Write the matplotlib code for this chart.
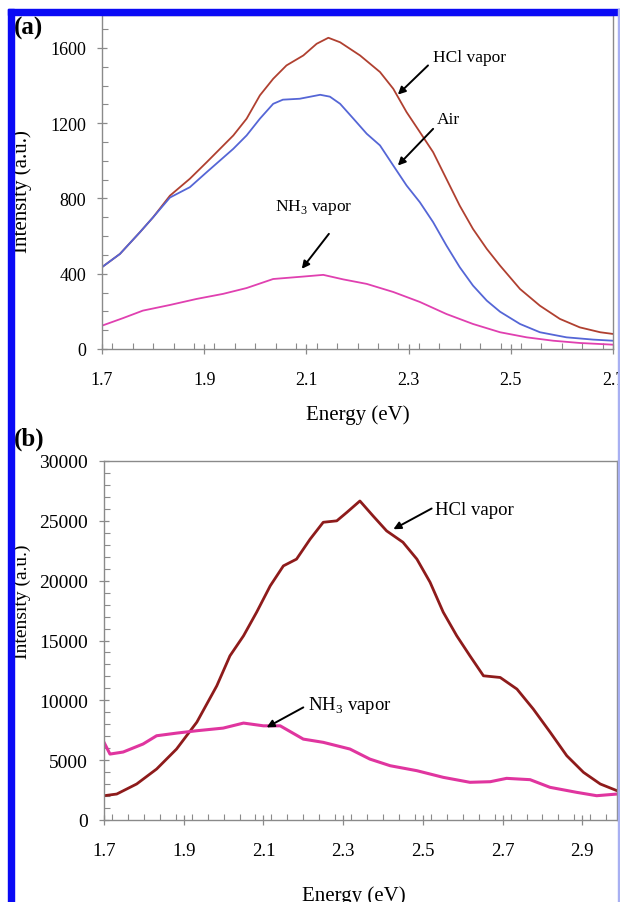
import matplotlib
matplotlib.use('Agg')
import matplotlib.pyplot as plt
from matplotlib.ticker import MultipleLocator
from matplotlib.patches import Rectangle

plt.rcParams['font.family'] = ['Liberation Serif', 'DejaVu Serif']
plt.rcParams['mathtext.fontset'] = 'custom'
plt.rcParams['mathtext.rm'] = 'Liberation Serif'

# (a) emission spectra
a_hcl_e = [1.700, 1.735, 1.774, 1.800, 1.833, 1.872, 1.905, 1.957, 1.983, 2.009, 2.035, 2.061,
           2.094, 2.120, 2.143, 2.166, 2.205, 2.244, 2.270, 2.296, 2.322, 2.348, 2.374, 2.400,
           2.426, 2.453, 2.479, 2.518, 2.557, 2.596, 2.635, 2.675, 2.700]
a_hcl_i = [435, 505, 620, 700, 815, 905, 993, 1135, 1224, 1348, 1436, 1507,
           1560, 1622, 1654, 1630, 1560, 1472, 1383, 1259, 1153, 1046, 904, 762,
           638, 532, 443, 319, 230, 160, 115, 89, 80]

a_air_e = [1.700, 1.735, 1.774, 1.800, 1.833, 1.872, 1.905, 1.957, 1.983, 2.009, 2.035, 2.054,
           2.087, 2.127, 2.146, 2.166, 2.192, 2.218, 2.244, 2.270, 2.296, 2.322, 2.348, 2.374,
           2.400, 2.426, 2.453, 2.479, 2.518, 2.557, 2.609, 2.661, 2.700]
a_air_i = [435, 505, 620, 700, 805, 860, 940, 1064, 1135, 1224, 1303, 1325,
           1330, 1351, 1341, 1303, 1224, 1144, 1082, 975, 869, 780, 674, 550,
           435, 337, 257, 198, 133, 89, 62, 50, 44]

a_nh3_e = [1.700, 1.741, 1.780, 1.833, 1.885, 1.937, 1.983, 2.035, 2.094, 2.133, 2.172,
           2.218, 2.270, 2.322, 2.374, 2.426, 2.479, 2.531, 2.583, 2.635, 2.700]
a_nh3_i = [124, 164, 204, 234, 266, 293, 324, 372, 385, 394, 370,
           346, 303, 250, 186, 133, 89, 62, 44, 32, 23]

# (b)
b_hcl_e = [1.700, 1.732, 1.782, 1.832, 1.882, 1.933, 1.983, 2.016, 2.050, 2.083, 2.117, 2.150,
           2.183, 2.217, 2.250, 2.284, 2.309, 2.342, 2.375, 2.409, 2.450, 2.485, 2.518, 2.551,
           2.585, 2.618, 2.652, 2.694, 2.736, 2.777, 2.819, 2.861, 2.903, 2.945, 2.987]
b_hcl_i = [2030, 2170, 3010, 4260, 5930, 8180, 11215, 13720, 15390, 17370, 19565, 21235,
           21800, 23465, 24880, 25000, 25700, 26660, 25410, 24160, 23210, 21800, 19870, 17370,
           15390, 13720, 12050, 11910, 10940, 9270, 7350, 5370, 3980, 3010, 2450]

b_nh3_e = [1.700, 1.715, 1.748, 1.798, 1.832, 1.882, 1.933, 1.999, 2.050, 2.100, 2.142, 2.200,
           2.250, 2.317, 2.367, 2.418, 2.485, 2.551, 2.618, 2.669, 2.710, 2.769, 2.819, 2.886,
           2.936, 2.987]
b_nh3_i = [6490, 5510, 5680, 6350, 7040, 7260, 7460, 7680, 8100, 7870, 7870, 6760,
           6490, 5930, 5090, 4535, 4120, 3565, 3150, 3200, 3480, 3370, 2730, 2310,
           2030, 2170]

W, H = 620, 903
fig = plt.figure(figsize=(W / 100, H / 100), dpi=100)


def px_axes(left, top, right, bottom):
    return fig.add_axes([left / W, 1 - bottom / H, (right - left) / W, (bottom - top) / H])


def style(ax, tick_size):
    for s in ax.spines.values():
        s.set_color('#8a8a8a')
        s.set_linewidth(1.0)
    ax.tick_params(which='major', direction='inout', length=7, width=0.9, color='#8a8a8a',
                   labelsize=tick_size)
    ax.tick_params(which='minor', direction='in', length=4, width=0.8, color='#8a8a8a')
    ax.tick_params(axis='y', which='major', pad=8)
    ax.tick_params(axis='x', which='major', pad=12)
    ax.xaxis.set_minor_locator(MultipleLocator(0.04))


arrow = dict(arrowstyle='-|>', color='black', lw=1.4, mutation_scale=11, shrinkA=0, shrinkB=0)

# ---- panel (a)
ax1 = px_axes(102, 16, 613, 350)
ax1.plot(a_hcl_e, a_hcl_i, color='#B04030', lw=1.3)
ax1.plot(a_air_e, a_air_i, color='#5566D6', lw=1.3)
ax1.plot(a_nh3_e, a_nh3_i, color='#E040B0', lw=1.3)
ax1.set_xlim(1.7, 2.7)
ax1.set_ylim(0, 1775)
ax1.set_xticks([1.7, 1.9, 2.1, 2.3, 2.5, 2.7])
ax1.set_xticklabels(['1.7', '1.9', '2.1', '2.3', '2.5', '2.7'])
ax1.set_yticks([0, 400, 800, 1200, 1600])
ax1.yaxis.set_minor_locator(MultipleLocator(100))
style(ax1, 13)

ax1.text(2.348, 1553, 'HCl vapor', fontsize=12.5, va='center')
ax1.annotate('', xy=(2.279, 1352), xytext=(2.338, 1507), arrowprops=arrow)
ax1.text(2.356, 1224, 'Air', fontsize=12.5, va='center')
ax1.annotate('', xy=(2.279, 975), xytext=(2.348, 1170), arrowprops=arrow)
ax1.text(2.039, 755, 'NH$_3$ vapor', fontsize=12.5, va='center')
ax1.annotate('', xy=(2.091, 426), xytext=(2.144, 612), arrowprops=arrow)

fig.text(358 / W, 1 - 415 / H, 'Energy (eV)', fontsize=15, ha='center', va='center')
fig.text(22 / W, 1 - 192 / H, 'Intensity (a.u.)', fontsize=15, ha='center', va='center',
         rotation=90)
fig.text(14 / W, 1 - 17 / H, '(a)', fontsize=18, fontweight='bold', ha='left', va='top')

# ---- panel (b)
ax2 = px_axes(104, 462, 617, 821)
ax2.plot(b_hcl_e, b_hcl_i, color='#8E1B1B', lw=2.0)
ax2.plot(b_nh3_e, b_nh3_i, color='#E0359F', lw=2.2)
ax2.set_xlim(1.7, 2.987)
ax2.set_ylim(0, 30000)
ax2.set_xticks([1.7, 1.9, 2.1, 2.3, 2.5, 2.7, 2.9])
ax2.set_xticklabels(['1.7', '1.9', '2.1', '2.3', '2.5', '2.7', '2.9'])
ax2.set_yticks([0, 5000, 10000, 15000, 20000, 25000, 30000])
ax2.yaxis.set_minor_locator(MultipleLocator(1000))
style(ax2, 14)
ax2.tick_params(axis='x', labelsize=13.5)

ax2.text(2.531, 25970, 'HCl vapor', fontsize=13.5, va='center')
ax2.annotate('', xy=(2.426, 24300), xytext=(2.522, 26030), arrowprops=arrow)
ax2.text(2.212, 9690, 'NH$_3$ vapor', fontsize=13.5, va='center')
ax2.annotate('', xy=(2.108, 7740), xytext=(2.2, 9410), arrowprops=arrow)

fig.text(354 / W, 1 - 886 / H, 'Energy (eV)', fontsize=15, ha='center', va='top')
fig.text(22 / W, 1 - 602 / H, 'Intensity (a.u.)', fontsize=14, ha='center', va='center',
         rotation=90)
fig.text(14 / W, 1 - 428 / H, '(b)', fontsize=18, fontweight='bold', ha='left', va='top')

# blue frame
fig.patches.append(Rectangle((8 / W, 1 - 16 / H), 1, 6 / H, transform=fig.transFigure,
                             color='#0A0AF5', zorder=10))
fig.patches.append(Rectangle((8 / W, 0), 6 / W, 1 - 10 / H, transform=fig.transFigure,
                             color='#0A0AF5', zorder=10))
fig.patches.append(Rectangle((618 / W, 0), 2 / W, 1 - 10 / H, transform=fig.transFigure,
                             color='#A8B0F2', zorder=10))

fig.savefig('out.png', dpi=100)
